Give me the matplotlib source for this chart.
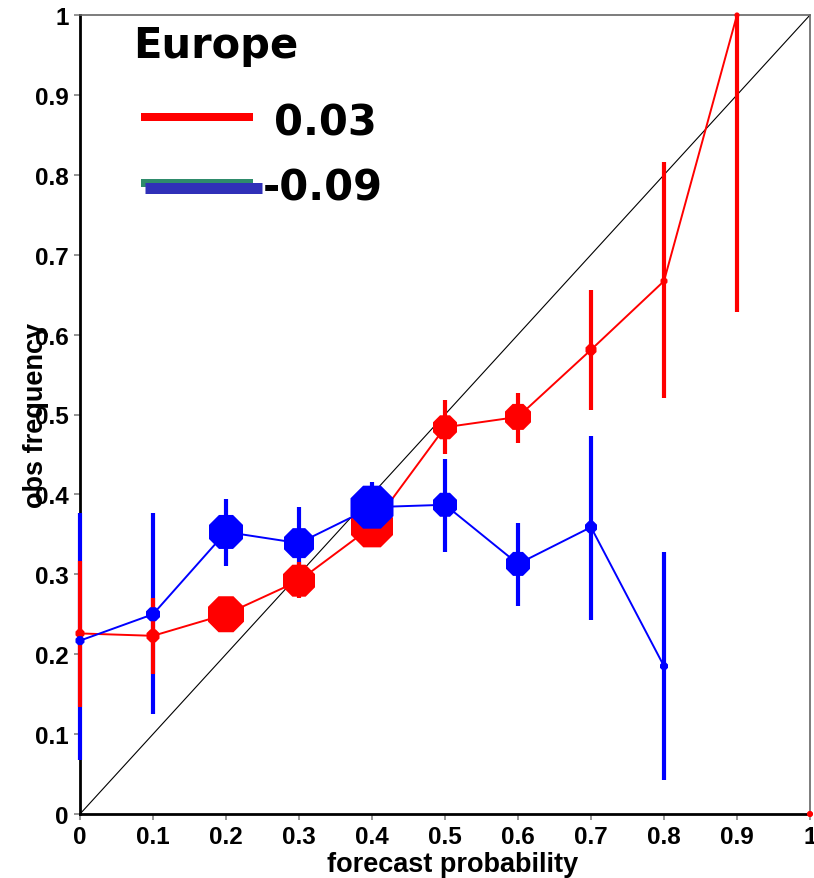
import numpy as np
import matplotlib
matplotlib.use("Agg")
import matplotlib.pyplot as plt
from matplotlib import font_manager
from matplotlib.lines import Line2D

# ---- data -------------------------------------------------------------
prob_bins = [0.0, 0.1, 0.2, 0.3, 0.4, 0.5, 0.6, 0.7, 0.8, 0.9, 1.0]
tick_labels = ["0", "0.1", "0.2", "0.3", "0.4", "0.5", "0.6", "0.7", "0.8", "0.9", "1"]

red_freq = [0.226, 0.223, 0.250, 0.292, 0.360, 0.484, 0.497, 0.581, 0.667, 1.000, 0.000]
red_lo = [0.134, 0.175, 0.232, 0.270, 0.340, 0.450, 0.464, 0.506, 0.521, 0.628, np.nan]
red_hi = [0.317, 0.270, 0.272, 0.315, 0.380, 0.518, 0.527, 0.656, 0.816, 1.000, np.nan]

blue_freq = [0.217, 0.250, 0.353, 0.339, 0.384, 0.387, 0.313, 0.359, 0.185]
blue_lo = [0.068, 0.125, 0.310, 0.300, 0.355, 0.328, 0.260, 0.243, 0.043]
blue_hi = [0.377, 0.377, 0.394, 0.384, 0.415, 0.444, 0.364, 0.473, 0.328]

# marker widths (pixels), proportional to the population of each bin
red_marker_px = [9, 13, 36, 32, 42, 24, 26, 11, 7, 5, 6]
blue_marker_px = [9, 14, 34, 30, 43, 24, 24, 12, 8]

region = "Europe"
red_score = "0.03"
blue_score = "-0.09"

# ---- fonts ------------------------------------------------------------
available = {f.name for f in font_manager.fontManager.ttflist}
tick_font = "Liberation Sans" if "Liberation Sans" in available else "DejaVu Sans"
label_font = ("Liberation Sans Narrow" if "Liberation Sans Narrow" in available
              else tick_font)

DPI = 100
W, H = 814, 879
fig = plt.figure(figsize=(W / DPI, H / DPI), dpi=DPI)
ax = fig.add_axes([80 / W, 1 - 815 / H, 730 / W, 799 / H])

PX = 72.0 / DPI  # points per pixel


def oct_size(px):
    # '8' marker: markersize is the circumscribed diameter
    return (px / np.cos(np.pi / 8) * PX) ** 2


x_red = np.array(prob_bins)
x_blue = np.array(prob_bins[:len(blue_freq)])

# perfect reliability diagonal
ax.plot([0, 1], [0, 1], color="black", lw=0.8, zorder=1)

# confidence intervals (drawn over the spines at the plot edges)
ax.vlines(x_blue, blue_lo, blue_hi, colors="#0000ff", lw=3.0, zorder=3,
          clip_on=False)
ax.vlines(x_red, red_lo, red_hi, colors="#ff0000", lw=3.0, zorder=4,
          clip_on=False)

# reliability curves (the 1.0 bin has no line segment)
ax.plot(x_red[:10], red_freq[:10], color="#ff0000", lw=1.4, zorder=5,
        clip_on=False)
ax.scatter(x_red, red_freq, s=[oct_size(p) for p in red_marker_px],
           marker="8", color="#ff0000", linewidths=0, zorder=6, clip_on=False)
ax.plot(x_blue, blue_freq, color="#0000ff", lw=1.4, zorder=7, clip_on=False)
ax.scatter(x_blue, blue_freq, s=[oct_size(p) for p in blue_marker_px],
           marker="8", color="#0000ff", linewidths=0, zorder=8, clip_on=False)

ax.set_xlim(0, 1)
ax.set_ylim(0, 1)
ax.set_xticks(prob_bins)
ax.set_xticklabels(tick_labels)
ax.set_yticks(prob_bins)
ax.set_yticklabels(tick_labels)

for side in ("left", "bottom"):
    ax.spines[side].set_color("black")
    ax.spines[side].set_linewidth(2.0)
for side in ("top", "right"):
    ax.spines[side].set_color("#666666")
    ax.spines[side].set_linewidth(1.2)

ax.tick_params(direction="out", length=4.5, width=1.1, color="#777777",
               pad=3.5)
for lab in ax.get_xticklabels() + ax.get_yticklabels():
    lab.set_fontfamily(tick_font)
    lab.set_fontweight("bold")
    lab.set_fontsize(17.5)

ax.set_xlabel("forecast probability", family=label_font, weight="bold",
              fontsize=19.5, labelpad=2)
ax.xaxis.label.set_x(0.51)
ax.set_ylabel("obs frequency", family=label_font, weight="bold",
              fontsize=19.5, labelpad=-10)

# ---- key --------------------------------------------------------------
fig.text(133 / W, 1 - 58 / H, region, family="DejaVu Sans", weight="bold",
         fontsize=30, ha="left", va="baseline")
fig.add_artist(Line2D([141 / W, 253 / W], [1 - 118 / H] * 2,
                      color="#ff0000", lw=8 * PX, solid_capstyle="butt"))
fig.text(274 / W, 1 - 135 / H, red_score, family="DejaVu Sans",
         weight="bold", fontsize=30, ha="left", va="baseline")
fig.add_artist(Line2D([141 / W, 253 / W], [1 - 184 / H] * 2,
                      color="#2e8b6b", lw=8 * PX, solid_capstyle="butt"))
fig.add_artist(Line2D([145 / W, 262 / W], [1 - 188.5 / H] * 2,
                      color="#3030b8", lw=11 * PX, solid_capstyle="butt"))
fig.text(263 / W, 1 - 201 / H, blue_score, family="DejaVu Sans",
         weight="bold", fontsize=30, ha="left", va="baseline")

fig.savefig("out.png", dpi=DPI)
